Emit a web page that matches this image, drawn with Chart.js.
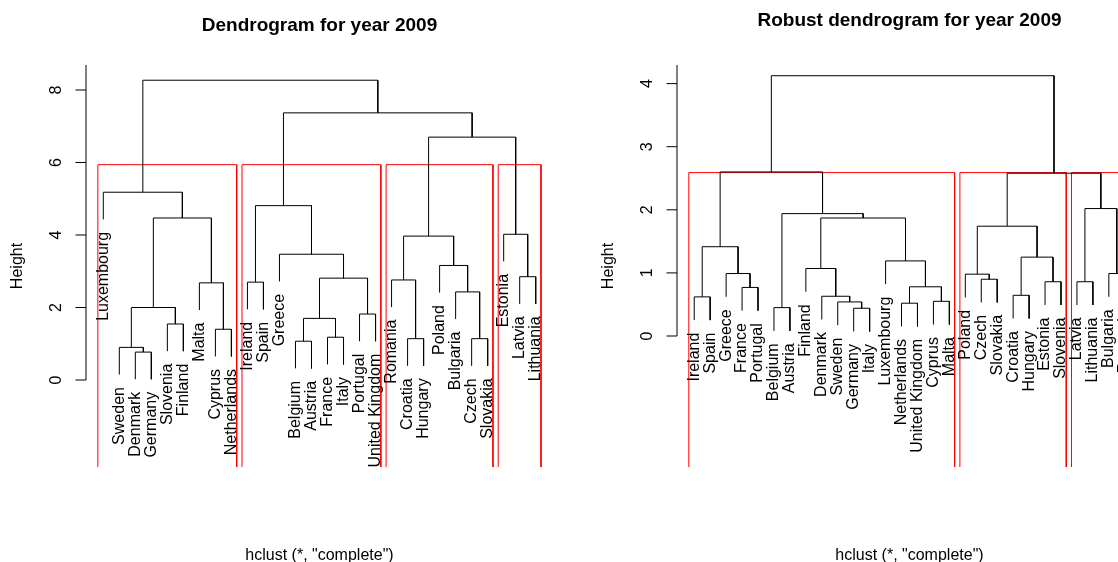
<!DOCTYPE html>
<html>
<head>
<meta charset="utf-8">
<script src="https://cdn.jsdelivr.net/npm/chart.js@4.4.1/dist/chart.umd.min.js"></script>
<style>
  html, body { margin: 0; padding: 0; width: 1118px; height: 562px; overflow: hidden; background: #fff; }
  .panel { position: absolute; top: 0; height: 562px; }
</style>
</head>
<body>
<div class="panel" style="left:0;width:560px"><canvas id="classic" width="560" height="562"></canvas></div>
<div class="panel" style="left:560px;width:620px"><canvas id="robust" width="620" height="562"></canvas></div>
<script>
// hclust-style merge steps: negative = leaf position in plotting order, positive = earlier step
const classicLabels = ['Luxembourg', 'Sweden', 'Denmark', 'Germany', 'Slovenia', 'Finland', 'Malta', 'Cyprus', 'Netherlands',
  'Ireland', 'Spain', 'Greece', 'Belgium', 'Austria', 'France', 'Italy', 'Portugal', 'United Kingdom',
  'Romania', 'Croatia', 'Hungary', 'Poland', 'Bulgaria', 'Czech', 'Slovakia', 'Estonia', 'Latvia', 'Lithuania'];
const classicMerge = [[-3, -4], [-2, 1], [-13, -14], [-20, -21], [-24, -25], [-15, -16], [-8, -9], [-5, -6], [3, 6],
  [-17, -18], [2, 8], [-23, 5], [-7, 7], [-10, -11], [-19, 4], [9, 10], [-27, -28], [-22, 12], [-12, 16],
  [15, 18], [-26, 17], [11, 13], [14, 19], [-1, 22], [20, 21], [23, 25], [24, 26]];
const classicHeights = [0.77, 0.90, 1.07, 1.14, 1.14, 1.18, 1.40, 1.545, 1.70, 1.82, 2.00, 2.43, 2.68, 2.70,
  2.76, 2.81, 2.85, 3.16, 3.47, 3.97, 4.02, 4.47, 4.81, 5.18, 6.70, 7.37, 8.27];
const classicGroups = [9, 9, 7, 3];
const classicTicks = [0, 2, 4, 6, 8];

const robustLabels = ['Ireland', 'Spain', 'Greece', 'France', 'Portugal', 'Belgium', 'Austria', 'Finland', 'Denmark',
  'Sweden', 'Germany', 'Italy', 'Luxembourg', 'Netherlands', 'United Kingdom', 'Cyprus', 'Malta',
  'Poland', 'Czech', 'Slovakia', 'Croatia', 'Hungary', 'Estonia', 'Slovenia', 'Latvia', 'Lithuania', 'Bulgaria', 'Romania'];
const robustMerge = [[-11, -12], [-6, -7], [-14, -15], [-10, 1], [-16, -17], [-1, -2], [-9, 4], [-21, -22], [-4, -5],
  [3, 5], [-23, -24], [-25, -26], [-19, -20], [-18, 13], [-3, 9], [-27, -28], [-8, 7], [-13, 10], [8, 11],
  [6, 15], [14, 19], [17, 18], [2, 22], [12, 16], [21, 24], [20, 23], [26, 25]];
const robustHeights = [0.44, 0.45, 0.52, 0.54, 0.55, 0.62, 0.63, 0.645, 0.77, 0.78, 0.86, 0.86, 0.90, 0.98,
  0.99, 0.99, 1.07, 1.19, 1.25, 1.415, 1.74, 1.87, 1.94, 2.02, 2.58, 2.60, 4.125];
const robustGroups = [17, 7, 4];
const robustTicks = [0, 1, 2, 3, 4];

const FONT = '"Liberation Sans", Arial, Helvetica, sans-serif';

// leaf/branch coordinates the way plot.hclust does it (hang = 0.1)
function layoutTree(merge, heights) {
  const hang = 0.1 * (Math.max(...heights) - Math.min(...heights));
  const nodeX = [];
  const leafEnd = [];
  const segs = [];
  const pos = (id) => (id < 0 ? -id : nodeX[id - 1]);
  const foot = (id, h) => (id < 0 ? h - hang : heights[id - 1]);
  merge.forEach(([a, b], i) => {
    const h = heights[i];
    nodeX[i] = (pos(a) + pos(b)) / 2;
    segs.push([
      { x: pos(a), y: foot(a, h) }, { x: pos(a), y: h },
      { x: pos(b), y: h }, { x: pos(b), y: foot(b, h) }
    ]);
    [a, b].forEach(id => { if (id < 0) leafEnd[-id - 1] = h - hang; });
  });
  return { segs, leafEnd };
}

// rect.hclust boxes: open at the bottom of the plot region
function groupBoxes(groups, heights, yMin) {
  const k = groups.length;
  const sorted = [...heights].sort((a, b) => b - a);
  const top = (sorted[k - 2] + sorted[k - 1]) / 2;
  const boxes = [];
  let m = 0;
  groups.forEach(n => {
    boxes.push([
      { x: m + 0.66, y: yMin }, { x: m + 0.66, y: top },
      { x: m + n + 0.33, y: top }, { x: m + n + 0.33, y: yMin }
    ]);
    m += n;
  });
  return boxes;
}

const annotate = {
  id: 'annotate',
  afterDraw(chart) {
    const o = chart.options.plugins.annotate;
    const { ctx, chartArea } = chart;
    const xs = chart.scales.x, ys = chart.scales.y;
    const axisX = chartArea.left;
    const midX = (chartArea.left + chartArea.right) / 2;
    ctx.save();
    ctx.fillStyle = '#000';
    ctx.strokeStyle = '#000';
    ctx.lineWidth = 1;

    // y axis line and ticks
    ctx.beginPath();
    ctx.moveTo(axisX, chartArea.top);
    ctx.lineTo(axisX, ys.getPixelForValue(0));
    o.ticks.forEach(t => {
      const py = ys.getPixelForValue(t);
      ctx.moveTo(axisX - 10.5, py);
      ctx.lineTo(axisX, py);
    });
    ctx.stroke();

    const vtext = (txt, x, y, align) => {
      ctx.save();
      ctx.translate(x, y);
      ctx.rotate(-Math.PI / 2);
      ctx.textAlign = align;
      ctx.textBaseline = 'middle';
      ctx.fillText(txt, 0, 0);
      ctx.restore();
    };

    ctx.font = '16px ' + FONT;
    o.ticks.forEach(t => vtext(String(t), axisX - 29, ys.getPixelForValue(t), 'center'));
    vtext('Height', axisX - 68, (chartArea.top + chartArea.bottom) / 2, 'center');

    // leaf labels hang below the leaf ends
    o.labels.forEach((lab, i) => {
      vtext(lab, xs.getPixelForValue(i + 1), ys.getPixelForValue(o.leafEnd[i]) + 12.5, 'right');
    });

    ctx.textAlign = 'center';
    ctx.textBaseline = 'middle';
    ctx.fillText('hclust (*, "complete")', midX, 555.5);

    ctx.font = 'bold 19px ' + FONT;
    ctx.fillText(o.title, midX, o.titleY);
    ctx.restore();
  }
};

function drawDendrogram(id, cfg) {
  const tree = layoutTree(cfg.merge, cfg.heights);
  const boxes = groupBoxes(cfg.groups, cfg.heights, cfg.yMin);
  const line = (data, color) => ({
    data, borderColor: color, borderWidth: 1, showLine: true,
    pointRadius: 0, tension: 0, fill: false
  });
  const datasets = tree.segs.map(s => line(s, '#000'))
    .concat(boxes.map(b => line(b, '#ff0000')));

  return new Chart(id, {
    type: 'scatter',
    data: { datasets },
    options: {
      responsive: false,
      animation: false,
      events: [],
      layout: { padding: cfg.padding },
      scales: {
        x: { type: 'linear', display: false, min: -0.08, max: 29.08 },
        y: { type: 'linear', display: false, min: cfg.yMin, max: cfg.yMax }
      },
      plugins: {
        legend: { display: false },
        tooltip: { enabled: false },
        annotate: {
          title: cfg.title, titleY: cfg.titleY, ticks: cfg.ticks,
          labels: cfg.labels, leafEnd: tree.leafEnd
        }
      }
    },
    plugins: [annotate]
  });
}

drawDendrogram('classic', {
  title: 'Dendrogram for year 2009', titleY: 26,
  labels: classicLabels, merge: classicMerge, heights: classicHeights,
  groups: classicGroups, ticks: classicTicks,
  yMin: -2.40, yMax: 8.69,
  padding: { left: 86, right: 7, top: 65, bottom: 95 }
});

drawDendrogram('robust', {
  title: 'Robust dendrogram for year 2009', titleY: 21,
  labels: robustLabels, merge: robustMerge, heights: robustHeights,
  groups: robustGroups, ticks: robustTicks,
  yMin: -2.076, yMax: 4.295,
  padding: { left: 117, right: 38, top: 65, bottom: 95 }
});
</script>
</body>
</html>
